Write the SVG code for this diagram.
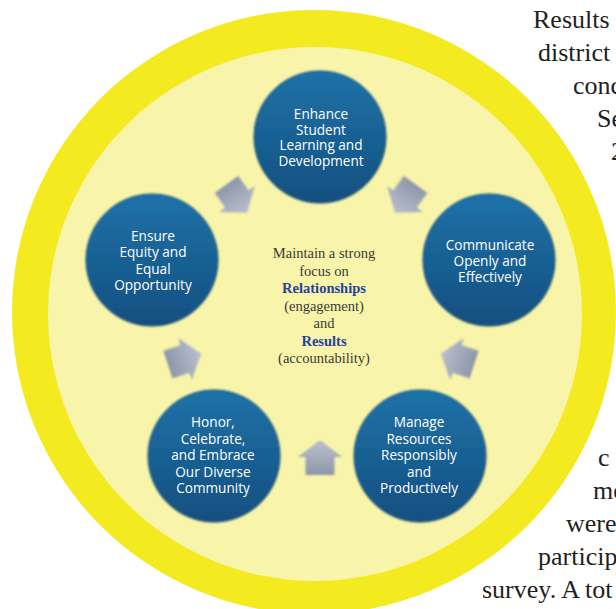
<svg xmlns="http://www.w3.org/2000/svg" width="616" height="609" viewBox="0 0 616 609">
<defs>
<style>
.node-c{fill:url(#blueG);stroke:#124a78;stroke-width:1;filter:url(#soft)}
.nt{font-family:"Open Sans","Noto Sans",sans-serif;font-size:13.6px;fill:#ffffff;text-anchor:middle}
.ct{font-family:"Liberation Serif",serif;font-size:14.5px;fill:#3a3a3a;text-anchor:middle}
.cb{font-weight:bold;fill:#24449c}
.body{font-family:"Liberation Serif",serif;font-size:26px;fill:#231f20}
.arr{fill:url(#arrG);filter:url(#soft)}
</style>
<linearGradient id="blueG" x1="0" y1="0" x2="0" y2="1">
<stop offset="0" stop-color="#1f72a8"/>
<stop offset="1" stop-color="#134f80"/>
</linearGradient>
<linearGradient id="arrG" x1="0" y1="0" x2="0" y2="1">
<stop offset="0" stop-color="#b8bfcf"/>
<stop offset="1" stop-color="#8e97aa"/>
</linearGradient>
<filter id="soft" x="-10%" y="-10%" width="120%" height="120%">
<feGaussianBlur stdDeviation="0.8"/>
</filter>
<polygon id="arrow" points="0,-17 22,0 14.5,0 14.5,18 -14.5,18 -14.5,0 -22,0"/>
</defs>
<rect width="616" height="609" fill="#ffffff"/>
<g id="ring">
<circle cx="314" cy="312" r="302" fill="#f3ea20"/>
<circle cx="315" cy="314" r="267" fill="#f8f4a9"/>
</g>
<g id="body-text" class="body">
<text x="533" y="28">Results</text>
<text x="538" y="61">district</text>
<text x="573" y="94">conc</text>
<text x="597" y="127">Se</text>
<text x="611" y="160">2</text>
<text x="598" y="466">c</text>
<text x="593" y="499">me</text>
<text x="566" y="532">were</text>
<text x="538" y="565">particip</text>
<text x="482" y="598">survey. A tot</text>
</g>
<g id="connectors">
<use href="#arrow" class="arr" transform="translate(405,199) rotate(-144)"/>
<use href="#arrow" class="arr" transform="translate(457,359) rotate(-72)"/>
<use href="#arrow" class="arr" transform="translate(320,457)"/>
<use href="#arrow" class="arr" transform="translate(185,359) rotate(72)"/>
<use href="#arrow" class="arr" transform="translate(237,199) rotate(144)"/>
</g>
<g id="node-enhance">
<circle class="node-c" cx="320" cy="137" r="66"/>
<text class="nt" x="321" y="119">Enhance</text>
<text class="nt" x="321" y="134.5">Student</text>
<text class="nt" x="321" y="150">Learning and</text>
<text class="nt" x="321" y="165.5">Development</text>
</g>
<g id="node-communicate">
<circle class="node-c" cx="489" cy="260" r="66"/>
<text class="nt" x="490" y="249.5">Communicate</text>
<text class="nt" x="490" y="265.5">Openly and</text>
<text class="nt" x="490" y="281.5">Effectively</text>
</g>
<g id="node-manage">
<circle class="node-c" cx="420" cy="456" r="66"/>
<text class="nt" x="419" y="427">Manage</text>
<text class="nt" x="419" y="443.5">Resources</text>
<text class="nt" x="419" y="460">Responsibly</text>
<text class="nt" x="419" y="476.5">and</text>
<text class="nt" x="419" y="493">Productively</text>
</g>
<g id="node-honor">
<circle class="node-c" cx="214" cy="456" r="66"/>
<text class="nt" x="213" y="427">Honor,</text>
<text class="nt" x="213" y="443.5">Celebrate,</text>
<text class="nt" x="213" y="460">and Embrace</text>
<text class="nt" x="213" y="476.5">Our Diverse</text>
<text class="nt" x="213" y="493">Community</text>
</g>
<g id="node-ensure">
<circle class="node-c" cx="152" cy="260" r="66"/>
<text class="nt" x="153" y="240.5">Ensure</text>
<text class="nt" x="153" y="257">Equity and</text>
<text class="nt" x="153" y="273.5">Equal</text>
<text class="nt" x="153" y="290">Opportunity</text>
</g>
<g id="center-text" class="ct">
<text x="324" y="258">Maintain a strong</text>
<text x="324" y="275.5">focus on</text>
<text x="324" y="293" class="cb">Relationships</text>
<text x="324" y="310.5">(engagement)</text>
<text x="324" y="328">and</text>
<text x="324" y="345.5" class="cb">Results</text>
<text x="324" y="363">(accountability)</text>
</g>
</svg>
